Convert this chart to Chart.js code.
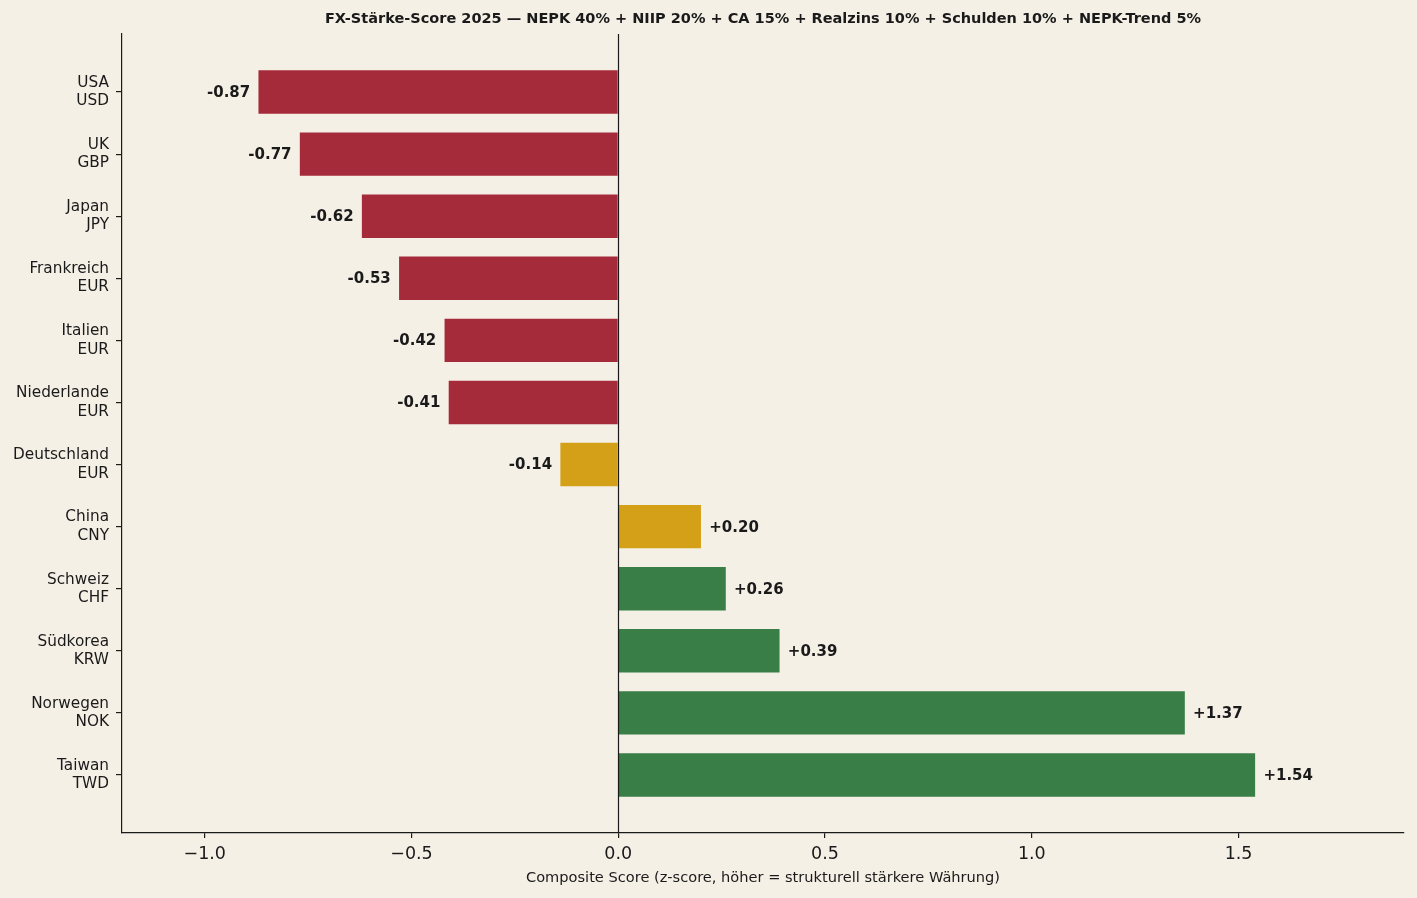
<!DOCTYPE html>
<html>
<head>
<meta charset="utf-8">
<script src="https://cdn.jsdelivr.net/npm/chart.js@4/dist/chart.umd.min.js"></script>
<style>
html,body{margin:0;padding:0;background:#F5F0E6;}
#wrap{width:1417px;height:898px;position:relative;}
</style>
</head>
<body>
<div id="wrap"><canvas id="c" width="1417" height="898"></canvas></div>
<script>
const countries = ['USA','UK','Japan','Frankreich','Italien','Niederlande','Deutschland','China','Schweiz','Südkorea','Norwegen','Taiwan'];
const currencies = ['USD','GBP','JPY','EUR','EUR','EUR','EUR','CNY','CHF','KRW','NOK','TWD'];
const scores = [-0.87,-0.77,-0.62,-0.53,-0.42,-0.41,-0.14,0.20,0.26,0.39,1.37,1.54];
const barColors = ['#A52A3A','#A52A3A','#A52A3A','#A52A3A','#A52A3A','#A52A3A','#D4A017','#D4A017','#387E46','#387E46','#387E46','#387E46'];
const xTicks = [-1.0,-0.5,0.0,0.5,1.0,1.5];
const titleText = 'FX-Stärke-Score 2025 — NEPK 40% + NIIP 20% + CA 15% + Realzins 10% + Schulden 10% + NEPK-Trend 5%';
const xLabel = 'Composite Score (z-score, höher = strukturell stärkere Währung)';

const INK = '#1a1a1a';
const FONT = "'DejaVu Sans', sans-serif";

const points = scores.map((v,i)=>({x:v,y:i}));

const overlay = {
  id:'overlay',
  afterDatasetsDraw(chart){
    const {ctx, chartArea, scales} = chart;
    const xs = scales.x, ys = scales.y;
    ctx.save();
    const x0 = Math.round(xs.getPixelForValue(0)) + 0.5;
    ctx.strokeStyle = INK; ctx.lineWidth = 1.2;
    ctx.beginPath(); ctx.moveTo(x0, chartArea.top); ctx.lineTo(x0, chartArea.bottom); ctx.stroke();
    ctx.font = "bold 15px " + FONT;
    ctx.fillStyle = INK;
    ctx.textBaseline = 'middle';
    scores.forEach((v,i)=>{
      const y = ys.getPixelForValue(i) + 1;
      const txt = (v>0?'+':'') + v.toFixed(2);
      if (v < 0) { ctx.textAlign='right'; ctx.fillText(txt, xs.getPixelForValue(v-0.02), y); }
      else { ctx.textAlign='left'; ctx.fillText(txt, xs.getPixelForValue(v+0.02), y); }
    });
    ctx.restore();
  },
  afterDraw(chart){
    const {ctx, chartArea} = chart;
    ctx.save();
    ctx.font = "bold 14.5px " + FONT;
    ctx.fillStyle = INK; ctx.textAlign='center'; ctx.textBaseline='middle';
    ctx.fillText(titleText, (chartArea.left+chartArea.right)/2, 19.5);
    ctx.restore();
  }
};

const bg = {
  id:'bg',
  beforeDraw(chart){
    const ctx = chart.ctx; ctx.save(); ctx.fillStyle='#F5F0E6'; ctx.fillRect(0,0,chart.width,chart.height); ctx.restore();
  }
};

new Chart(document.getElementById('c'), {
  type:'bar',
  data:{
    datasets:[{
      data: points,
      backgroundColor: barColors,
      borderWidth:0,
      barPercentage:0.7,
      categoryPercentage:1.0
    }]
  },
  options:{
    indexAxis:'y',
    responsive:false,
    animation:false,
    layout:{padding:{top:34,right:13,left:0,bottom:0}},
    plugins:{legend:{display:false},tooltip:{enabled:false},title:{display:false}},
    scales:{
      y:{
        type:'linear',
        offset:false,
        min:-0.935, max:11.935, reverse:true,
        afterBuildTicks(s){ s.ticks = countries.map((c,i)=>({value:i})); },
        afterFit(s){ s.width = 122; },
        ticks:{
          autoSkip:false,
          font:{family:FONT,size:15.3},
          color:INK,
          padding:7,
          callback:(v)=>[countries[v], currencies[v]]
        },
        grid:{offset:false, drawOnChartArea:false, drawTicks:true, tickLength:6, color:INK, lineWidth:1.2},
        border:{display:true,color:INK,width:1.2}
      },
      x:{
        type:'linear',
        min:-1.2, max:1.9,
        afterBuildTicks(s){ s.ticks = xTicks.map(v=>({value:v})); },
        afterFit(s){ s.height = 65; },
        ticks:{
          autoSkip:false,
          maxRotation:0,
          font:{family:FONT,size:17.5},
          color:INK,
          padding:6,
          callback:(v)=> (v<0?'\u2212':'') + Math.abs(v).toFixed(1)
        },
        grid:{drawOnChartArea:false, drawTicks:true, tickLength:5, color:INK, lineWidth:1.2},
        border:{display:true,color:INK,width:1.2},
        title:{display:true,text:xLabel,font:{family:FONT,size:14.6},color:INK,padding:{top:4,bottom:11}}
      }
    }
  },
  plugins:[bg, overlay]
});
</script>
</body>
</html>
